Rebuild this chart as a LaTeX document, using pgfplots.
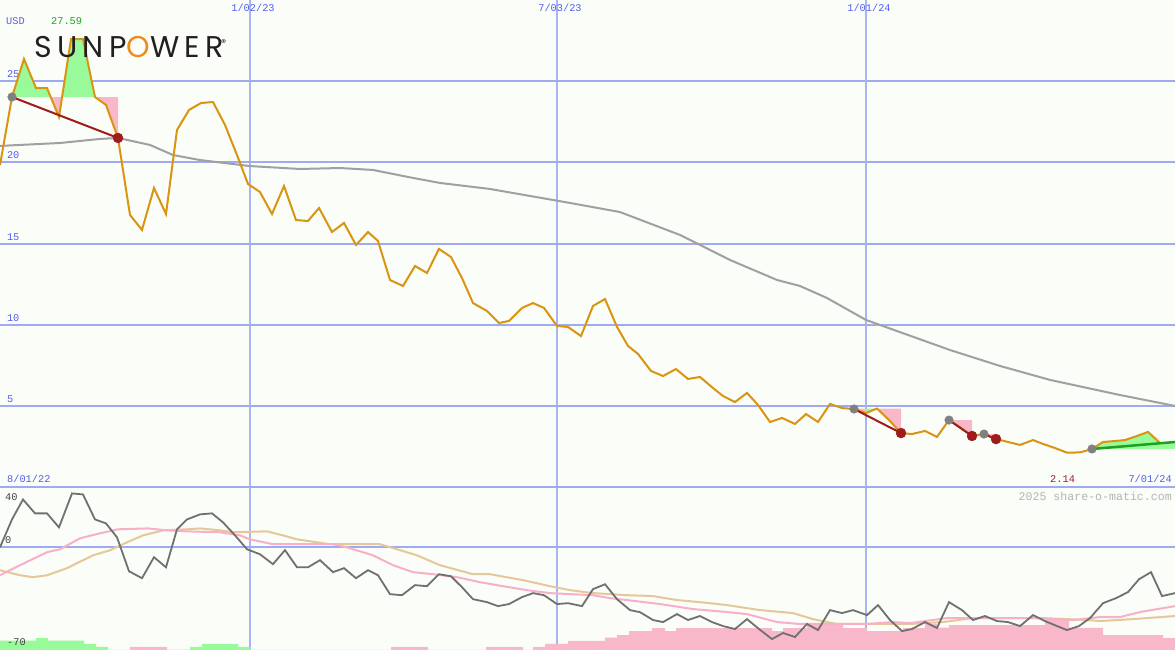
\documentclass[border=0pt]{standalone}
\usepackage{pgfplots}
\pgfplotsset{compat=1.18}
\usepackage{fontspec}
\setmainfont{Liberation Mono}
\newfontfamily\logofont[LetterSpace=18]{Poppins}
\definecolor{bg}{HTML}{FBFDF9}
\definecolor{gridh}{HTML}{A0AAF0}
\definecolor{gridv}{HTML}{A8B4F4}
\definecolor{lbl}{HTML}{5060E8}
\definecolor{price}{HTML}{D99410}
\definecolor{ma}{HTML}{A0A0A0}
\definecolor{gfill}{HTML}{98FA98}
\definecolor{pfill}{HTML}{F9B8CA}
\definecolor{dred}{HTML}{A01C1C}
\definecolor{dgreen}{HTML}{20A020}
\definecolor{mgray}{HTML}{808080}
\definecolor{osc}{HTML}{707070}
\definecolor{opink}{HTML}{F8B0C8}
\definecolor{otan}{HTML}{E4C898}
\definecolor{wm}{HTML}{B4B4B4}
\definecolor{logoor}{HTML}{EE8B1D}
\definecolor{logoblk}{HTML}{231F20}
\definecolor{axlbl}{HTML}{404040}
\pgfplotsset{
  panel/.style={scale only axis, width=1175pt, xmin=0, xmax=1175,
    axis background/.style={fill=bg},
    axis line style={draw=none}, major tick length=0pt,
    font=\fontsize{10.3}{12}\selectfont,
  }
}
\begin{document}
\begin{tikzpicture}
% ---------------- lower panel ----------------
\begin{axis}[panel, at={(0,0)}, height=162.5pt, ymin=-70, ymax=40,
  ytick={0}, yticklabels={},
  ymajorgrids, major y grid style={gridh, line width=2pt},
  xtick={250,557}, xticklabels={}, xmajorgrids,
  major x grid style={gridv, line width=2pt},
  extra x ticks={866}, extra x tick labels={},
  extra x tick style={major grid style={gridv, line width=1pt}}]
% volume-like bars
\addplot[const plot, fill=gfill, draw=none] coordinates {
 (0,-70) (0,-63.7) (36,-61.9) (48,-63.7) (84,-65.9) (96,-67.9) (108,-70)
 (190,-70) (190,-67.9) (202,-65.9) (238,-67.9) (250,-70)} -- cycle;
\addplot[const plot, fill=pfill, draw=none] coordinates {
 (130,-70) (130,-67.9) (167,-70) (391,-70) (391,-67.9) (428,-70)
 (486,-70) (486,-67.9) (523,-70) (533,-70) (533,-67.9) (545,-65.9)
 (568,-63.9) (605,-61.7) (617,-59.9) (629,-57.2) (652,-55.2) (665,-57.2)
 (676,-55.2) (772,-57.2) (783,-55.2) (807,-52.5) (843,-55.2) (867,-57.2)
 (903,-55.2) (925,-52.5) (937,-54.9) (949,-53.1) (1045,-49.7) (1069,-55.0)
 (1103,-59.9) (1163,-61.9) (1175,-61.9) (1175,-70)} -- cycle;
% tan line
\addplot[otan, line width=2pt] coordinates {
 (0,-16.0) (20,-19.4) (33,-20.7) (47,-19.4) (67,-14.6) (93,-5.9) (110,-2.5)
 (127,2.9) (143,7.6) (163,11.0) (187,11.7) (200,12.3) (220,11.0) (233,9.7)
 (267,10.3) (283,7.6) (297,4.9) (330,1.6) (380,1.6) (397,-1.8) (417,-5.9)
 (440,-12.6) (473,-18.7) (490,-18.7) (523,-22.7) (550,-26.8) (570,-29.5)
 (593,-31.5) (627,-32.9) (653,-33.5) (677,-36.2) (700,-37.6) (727,-39.6)
 (760,-43.0) (793,-45.0) (813,-49.1) (837,-52.4) (877,-52.4) (910,-52.4)
 (943,-51.1) (973,-48.4) (1043,-48.4) (1087,-49.7) (1100,-50.4) (1133,-49.1)
 (1175,-47.0)};
% pink line
\addplot[opink, line width=2pt] coordinates {
 (0,-19.4) (20,-12.6) (47,-3.8) (60,-1.8) (80,5.6) (100,9.0) (118,11.7)
 (148,12.3) (167,11.0) (187,10.3) (220,9.7) (240,7.6) (250,4.9) (273,1.6)
 (333,1.6) (347,-0.5) (373,-5.9) (393,-12.6) (413,-17.3) (433,-18.7)
 (457,-20.7) (480,-24.1) (503,-26.8) (527,-29.5) (550,-31.5) (570,-32.2)
 (593,-32.9) (610,-34.9) (627,-36.2) (660,-38.9) (693,-42.3) (727,-44.3)
 (747,-45.7) (777,-51.1) (800,-52.4) (837,-52.4) (867,-52.4) (893,-51.1)
 (910,-51.8) (947,-48.4) (967,-48.4) (1033,-48.4) (1073,-49.7) (1100,-47.7)
 (1120,-47.7) (1140,-44.3) (1175,-40.3)};
% oscillator
\addplot[osc, line width=1.8pt] coordinates {
 (0,-0.5) (12,18.4) (23,31.9) (35,22.5) (47,22.5) (59,13.0) (72,36.0)
 (83,35.3) (95,18.4) (106,15.7) (117,6.3) (129,-16.7) (142,-21.4) (154,-7.2)
 (166,-14.0) (177,11.7) (187,18.4) (200,21.8) (212,22.5) (223,16.4)
 (235,7.6) (247,-1.8) (260,-5.2) (273,-11.9) (285,-2.4) (297,-14.0)
 (308,-14.0) (320,-9.2) (333,-17.3) (344,-14.6) (356,-21.4) (368,-16.0)
 (378,-19.4) (390,-32.2) (402,-32.9) (415,-26.1) (427,-26.8) (439,-18.7)
 (451,-20.1) (462,-27.5) (473,-35.6) (487,-37.6) (498,-40.3) (509,-38.9)
 (522,-34.2) (533,-31.5) (544,-32.9) (557,-38.9) (568,-38.3) (582,-40.3)
 (593,-28.8) (605,-25.5) (617,-35.6) (630,-43.0) (640,-44.4) (653,-49.7)
 (663,-51.1) (677,-45.7) (688,-49.7) (700,-47.0) (712,-51.1) (723,-53.8)
 (735,-55.8) (747,-49.1) (759,-55.8) (772,-62.6) (783,-58.5) (795,-61.2)
 (807,-52.4) (818,-56.5) (830,-43.0) (842,-45.0) (853,-43.0) (867,-46.4)
 (878,-39.6) (890,-49.7) (902,-57.2) (912,-55.8) (925,-51.1) (937,-55.1)
 (949,-37.6) (962,-43.0) (973,-49.7) (985,-47.0) (997,-50.4) (1008,-51.1)
 (1020,-53.8) (1033,-46.4) (1045,-50.4) (1057,-53.8) (1067,-56.5)
 (1079,-53.8) (1090,-48.4) (1103,-38.3) (1116,-34.9) (1128,-30.8)
 (1139,-22.1) (1151,-17.3) (1162,-33.5) (1175,-31.5)};
\node[anchor=base west, inner sep=0, text=axlbl] at (axis cs:5,31.2) {40};
\node[anchor=base west, inner sep=0, text=axlbl] at (axis cs:5,2.2) {0};
\node[anchor=base west, inner sep=0, text=axlbl] at (axis cs:7,-66.8) {-70};
\node[anchor=base east, inner sep=0, text=wm, font=\fontsize{11.6}{12}\selectfont] at (axis cs:1172,31.2) {2025 share-o-matic.com};
\end{axis}
% ---------------- upper panel ----------------
\begin{axis}[panel, at={(0,162.5pt)}, height=487.5pt, ymin=0, ymax=30,
  ytick={0,5,10,15,20,25}, yticklabels={,5,10,15,20,25},
  yticklabel style={anchor=south west, text=lbl, xshift=3.5pt},
  ymajorgrids, major y grid style={gridh, line width=2pt},
  xtick={250,557}, xticklabels={1/02/23,7/03/23}, xmajorgrids,
  major x grid style={gridv, line width=2pt},
  extra x ticks={866}, extra x tick labels={1/01/24},
  extra x tick style={major grid style={gridv, line width=1pt}},
  xticklabel pos=upper,
  xticklabel style={anchor=north, text=lbl, yshift=-1pt, xshift=3pt}]
% trade fills
\addplot[fill=gfill, draw=none] coordinates {(12,24.03) (24,26.37) (36,24.58) (47,24.58) (50.7,24.03)} -- cycle;
\addplot[fill=gfill, draw=none] coordinates {(62.1,24.03) (71,27.59) (83,27.59) (95,24.03)} -- cycle;
\addplot[fill=pfill, draw=none] coordinates {(50.7,24.03) (59,22.80) (62.1,24.03)} -- cycle;
\addplot[fill=pfill, draw=none] coordinates {(95,24.03) (106,23.54) (118,21.51) (118,24.03)} -- cycle;
\addplot[fill=pfill, draw=none] coordinates {(854,4.86) (854,4.83) (866,4.58) (866,4.86)} -- cycle;
\addplot[fill=gfill, draw=none] coordinates {(866,4.86) (866,4.58) (877,4.86)} -- cycle;
\addplot[fill=pfill, draw=none] coordinates {(877,4.86) (889,4.15) (901,3.35) (901,4.86)} -- cycle;
\addplot[fill=pfill, draw=none] coordinates {(949,4.15) (961,3.66) (972,3.17) (972,4.15)} -- cycle;
\addplot[fill=pfill, draw=none] coordinates {(984,3.29) (996,2.98) (996,3.29)} -- cycle;
\addplot[fill=gfill, draw=none] coordinates {(1092,2.37) (1103,2.80) (1115,2.86) (1125,2.92) (1137,3.17) (1148,3.42) (1160,2.74) (1175,2.80) (1175,2.37)} -- cycle;
% moving average
\addplot[ma, line width=2pt] coordinates {
 (0,21.02) (60,21.20) (100,21.45) (118,21.51) (150,21.08) (173,20.46)
 (200,20.15) (250,19.78) (300,19.60) (340,19.66) (373,19.54) (413,19.05)
 (440,18.74) (490,18.37) (530,17.94) (570,17.51) (620,16.95) (680,15.54)
 (730,14.00) (777,12.77) (800,12.40) (827,11.66) (866,10.31) (950,8.46)
 (1000,7.48) (1050,6.62) (1120,5.69) (1175,5.02)};
% price
\addplot[price, line width=2pt] coordinates {
 (0,19.85) (12,24.03) (24,26.37) (36,24.58) (47,24.58) (59,22.80) (71,27.59)
 (83,27.59) (95,24.03) (106,23.54) (118,21.51) (130,16.77) (142,15.85)
 (154,18.43) (166,16.83) (177,22.00) (189,23.23) (201,23.66) (213,23.72)
 (225,22.31) (237,20.46) (248,18.68) (260,18.18) (272,16.83) (284,18.55)
 (296,16.46) (308,16.40) (319,17.20) (332,15.72) (344,16.28) (356,14.92)
 (368,15.72) (378,15.17) (390,12.77) (403,12.40) (415,13.63) (427,13.20)
 (439,14.68) (451,14.18) (462,12.89) (473,11.35) (487,10.86) (499,10.12)
 (509,10.25) (522,11.05) (533,11.35) (544,11.05) (557,9.94) (568,9.88)
 (581,9.32) (593,11.17) (605,11.60) (617,9.88) (628,8.71) (638,8.22)
 (651,7.17) (663,6.86) (676,7.29) (688,6.68) (700,6.80) (713,6.12)
 (723,5.63) (735,5.26) (747,5.82) (758,5.08) (770,4.03) (782,4.28)
 (795,3.91) (806,4.52) (818,4.03) (830,5.14) (842,4.89) (854,4.83)
 (866,4.58) (877,4.86) (889,4.15) (901,3.35) (912,3.29) (925,3.48)
 (937,3.11) (949,4.15) (961,3.66) (972,3.17) (984,3.29) (996,2.98)
 (1008,2.80) (1020,2.62) (1033,2.92) (1043,2.68) (1055,2.43) (1067,2.14)
 (1080,2.16) (1092,2.37) (1103,2.80) (1115,2.86) (1125,2.92) (1137,3.17)
 (1148,3.42) (1160,2.74)};
% trade lines
\addplot[dred, line width=2pt] coordinates {(12,24.03) (118,21.51)};
\addplot[dred, line width=2pt] coordinates {(854,4.83) (901,3.35)};
\addplot[dred, line width=2pt] coordinates {(949,4.15) (972,3.17)};
\addplot[dred, line width=2pt] coordinates {(984,3.29) (996,2.98)};
\addplot[dgreen, line width=2.5pt] coordinates {(1092,2.37) (1175,2.80)};
% trade markers
\addplot[only marks, mark=*, mark size=4.3pt, mark options={fill=mgray, draw=mgray}] coordinates {(12,24.03) (854,4.83) (949,4.15) (984,3.29) (1092,2.37)};
\addplot[only marks, mark=*, mark size=5pt, mark options={fill=dred, draw=dred}] coordinates {(118,21.51) (901,3.35) (972,3.17) (996,2.98)};
% texts
\node[anchor=base west, inner sep=0, text=lbl] at (axis cs:6,28.5) {USD};
\node[anchor=base west, inner sep=0, text=dgreen] at (axis cs:51,28.5) {27.59};
\node[anchor=base west, inner sep=0, text=lbl] at (axis cs:7,0.3) {8/01/22};
\node[anchor=base east, inner sep=0, text=lbl] at (axis cs:1172,0.3) {7/01/24};
\node[anchor=base west, inner sep=0, text=dred] at (axis cs:1050,0.3) {2.14};
\node[anchor=base west, inner sep=0] at (axis cs:34,26.49) {\logofont\fontsize{30}{30}\selectfont\color{logoblk}SUNP\textcolor{logoor}{O}WER\raisebox{11pt}{\fontsize{10}{10}\selectfont\kern-3pt ®}};
\end{axis}
\pgfresetboundingbox
\path[use as bounding box] (0,0) rectangle (1175pt,650pt);
\end{tikzpicture}
\end{document}
